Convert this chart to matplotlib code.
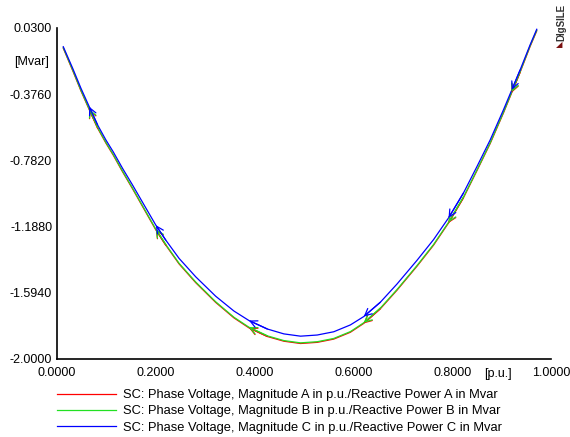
import matplotlib.pyplot as plt

plt.rcParams["font.family"] = ["Liberation Sans", "DejaVu Sans"]

# Phase voltage [p.u.] and reactive power [Mvar] samples per phase
voltage = [0.0127, 0.0317, 0.0485, 0.0653, 0.0822, 0.0990, 0.1137, 0.1327, 0.1529, 0.1764,
           0.2000, 0.2202, 0.2471, 0.2808, 0.3212, 0.3582, 0.3885, 0.4257, 0.4592, 0.4929,
           0.5267, 0.5602, 0.5939, 0.6208, 0.6545, 0.6883, 0.7287, 0.7622, 0.7925, 0.8228,
           0.8499, 0.8768, 0.9036, 0.9206, 0.9374, 0.9576, 0.9711]
q_a = [-0.094, -0.231, -0.356, -0.471, -0.584, -0.676, -0.749, -0.852, -0.956, -1.082,
       -1.208, -1.302, -1.417, -1.532, -1.653, -1.748, -1.809, -1.862, -1.891, -1.905,
       -1.898, -1.878, -1.836, -1.782, -1.692, -1.578, -1.431, -1.302, -1.166, -1.011,
       -0.846, -0.679, -0.492, -0.366, -0.242, -0.084, 0.012]
q_b = [-0.091, -0.227, -0.352, -0.467, -0.580, -0.672, -0.745, -0.848, -0.952, -1.078,
       -1.204, -1.298, -1.413, -1.528, -1.649, -1.744, -1.805, -1.858, -1.887, -1.901,
       -1.894, -1.874, -1.832, -1.778, -1.688, -1.574, -1.427, -1.298, -1.162, -1.007,
       -0.842, -0.675, -0.488, -0.362, -0.238, -0.080, 0.016]
q_c = [-0.085, -0.217, -0.340, -0.453, -0.565, -0.657, -0.729, -0.831, -0.933, -1.056,
       -1.179, -1.271, -1.383, -1.496, -1.615, -1.706, -1.764, -1.816, -1.846, -1.860,
       -1.853, -1.833, -1.791, -1.740, -1.652, -1.540, -1.395, -1.268, -1.135, -0.982,
       -0.821, -0.657, -0.473, -0.350, -0.228, -0.074, 0.022]

labels = [
    "SC: Phase Voltage, Magnitude A in p.u./Reactive Power A in Mvar",
    "SC: Phase Voltage, Magnitude B in p.u./Reactive Power B in Mvar",
    "SC: Phase Voltage, Magnitude C in p.u./Reactive Power C in Mvar",
]
colors = ["#ff0000", "#22e022", "#0000ff"]

x_ticks = [0.0, 0.2, 0.4, 0.6, 0.8, 1.0]
y_ticks = [0.03, -0.376, -0.782, -1.188, -1.594, -2.0]
arrow_idx = [3, 10, 16, 23, 28, 33]

fig = plt.figure(figsize=(5.7, 4.37), dpi=100)
ax = fig.add_axes([0.1, 0.1785, 0.8667, 0.7575])

for q, c, lab in zip([q_a, q_b, q_c], colors, labels):
    ax.plot(voltage, q, color=c, lw=0.9, label=lab)
    # trajectory runs from high voltage back to low voltage
    for i in arrow_idx:
        ax.annotate("", xy=(voltage[i], q[i]), xytext=(voltage[i + 1], q[i + 1]),
                    arrowprops=dict(arrowstyle="->,head_length=0.5,head_width=0.25",
                                    color=c, lw=0.9, shrinkA=0, shrinkB=0))

ax.set_xlim(0, 1.0)
ax.set_ylim(-2.0, 0.03)
ax.set_xticks(x_ticks)
ax.set_xticklabels([f"{v:.4f}" for v in x_ticks])
ax.set_yticks(y_ticks)
ax.set_yticklabels([f"{v:.4f}" for v in y_ticks])
ax.tick_params(length=0, labelsize=9)
ax.tick_params(axis="y", pad=3.5)
ax.tick_params(axis="x", pad=6)
for s in ["top", "right"]:
    ax.spines[s].set_visible(False)
for s in ["left", "bottom"]:
    ax.spines[s].set_linewidth(1.2)

fig.text(32 / 570, 1 - 62 / 437, "[Mvar]", ha="center", va="center", fontsize=9)
fig.text(498 / 570, 1 - 374 / 437, "[p.u.]", ha="center", va="center", fontsize=9)

# watermark in the top right corner
fig.text(561 / 570, 1 - 41 / 437, "DIgSILE", rotation=90, ha="center", va="bottom",
         fontsize=7, fontweight="bold", color="#333333")
fig.text(559 / 570, 1 - 46 / 437, "\u25e2", ha="center", va="center",
         fontsize=6, color="#7a1010")

fig.legend(loc="upper left", bbox_to_anchor=(57 / 570, 1 - 389 / 437), frameon=False,
           fontsize=9.3, handlelength=4.57, handletextpad=0.54, labelspacing=0.34,
           borderpad=0, borderaxespad=0)

fig.savefig("out.png", dpi=100)
